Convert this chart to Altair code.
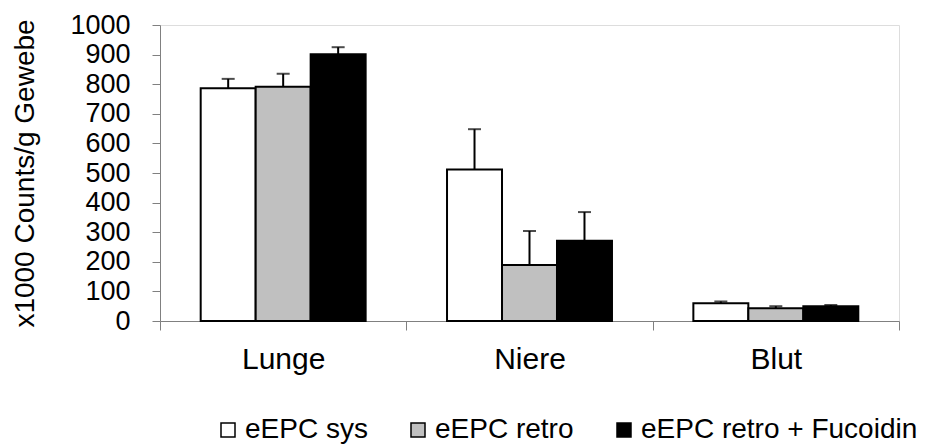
import altair as alt
import pandas as pd

categories = ["Lunge", "Niere", "Blut"]
series = ["eEPC sys", "eEPC retro", "eEPC retro + Fucoidin"]
colors = ["#FFFFFF", "#C0C0C0", "#000000"]
y_ticks = [0, 100, 200, 300, 400, 500, 600, 700, 800, 900, 1000]

sys_mean = [786, 512, 60]
sys_err = [32, 136, 6]
retro_mean = [791, 189, 43]
retro_err = [44, 115, 7]
fuc_mean = [901, 271, 50]
fuc_err = [24, 97, 4]

rows = []
for s, means, errs in zip(series, [sys_mean, retro_mean, fuc_mean], [sys_err, retro_err, fuc_err]):
    for c, m, e in zip(categories, means, errs):
        rows.append({"Organ": c, "Gruppe": s, "Wert": m, "Oben": m + e})
df = pd.DataFrame(rows)

FONT = "Liberation Sans"

x_axis = alt.Axis(
    title=None, labelAngle=0, labelFontSize=30, labelFont=FONT, labelColor="black",
    tickBand="extent", tickSize=9, tickColor="#808080", domainColor="#808080",
    labelPadding=14, labelBaseline="top",
)
y_axis = alt.Axis(
    title="x1000 Counts/g Gewebe", values=y_ticks, tickCount=len(y_ticks), format="d",
    labelOverlap=False, labelFlush=False, labelBound=False,
    labelFontSize=27, labelFont=FONT, labelColor="black", tickSize=8,
    tickColor="#808080", domainColor="#808080", labelPadding=22, grid=False,
    titleFontSize=28, titleFont=FONT, titleFontWeight="normal", titleColor="black",
    titleX=-127, titleY=148, titleBaseline="alphabetic",
)
x_scale = alt.Scale(paddingInner=0, paddingOuter=0)
y_scale = alt.Scale(domain=[0, 1000], nice=False, zero=True)
xoff = alt.XOffset("Gruppe:N", sort=series, scale=alt.Scale(paddingInner=0, paddingOuter=0.74))

x_enc = alt.X("Organ:N", sort=categories, scale=x_scale, axis=x_axis)

bars = alt.Chart(df).mark_bar(stroke="black", strokeWidth=2).encode(
    x=x_enc,
    xOffset=xoff,
    y=alt.Y("Wert:Q", scale=y_scale, axis=y_axis),
    fill=alt.Fill(
        "Gruppe:N", sort=series,
        scale=alt.Scale(domain=series, range=colors),
        legend=alt.Legend(
            title=None, orient="none", legendX=54, legendY=391, direction="horizontal",
            symbolType="square", symbolSize=196, symbolStrokeColor="black",
            symbolStrokeWidth=1.5, labelFontSize=28, labelFont=FONT, labelColor="black",
            labelOffset=3, columnPadding=36, symbolOpacity=1, labelLimit=400,
        ),
    ),
)

rules = alt.Chart(df).mark_rule(color="black", strokeWidth=2).encode(
    x=alt.X("Organ:N", sort=categories),
    xOffset=xoff,
    y=alt.Y("Wert:Q", scale=y_scale),
    y2="Oben:Q",
)

caps = alt.Chart(df).mark_tick(color="black", thickness=2, size=13, orient="horizontal").encode(
    x=alt.X("Organ:N", sort=categories),
    xOffset=xoff,
    y=alt.Y("Oben:Q", scale=y_scale),
)

chart = alt.layer(bars, rules, caps).properties(
    width=739, height=296,
    autosize=alt.AutoSizeParams(type="none"),
    padding={"left": 160, "top": 25, "right": 39, "bottom": 123},
).configure_view(stroke=None).configure(background="white")

chart.save("out.html", embed_options={"renderer": "svg", "actions": False})
